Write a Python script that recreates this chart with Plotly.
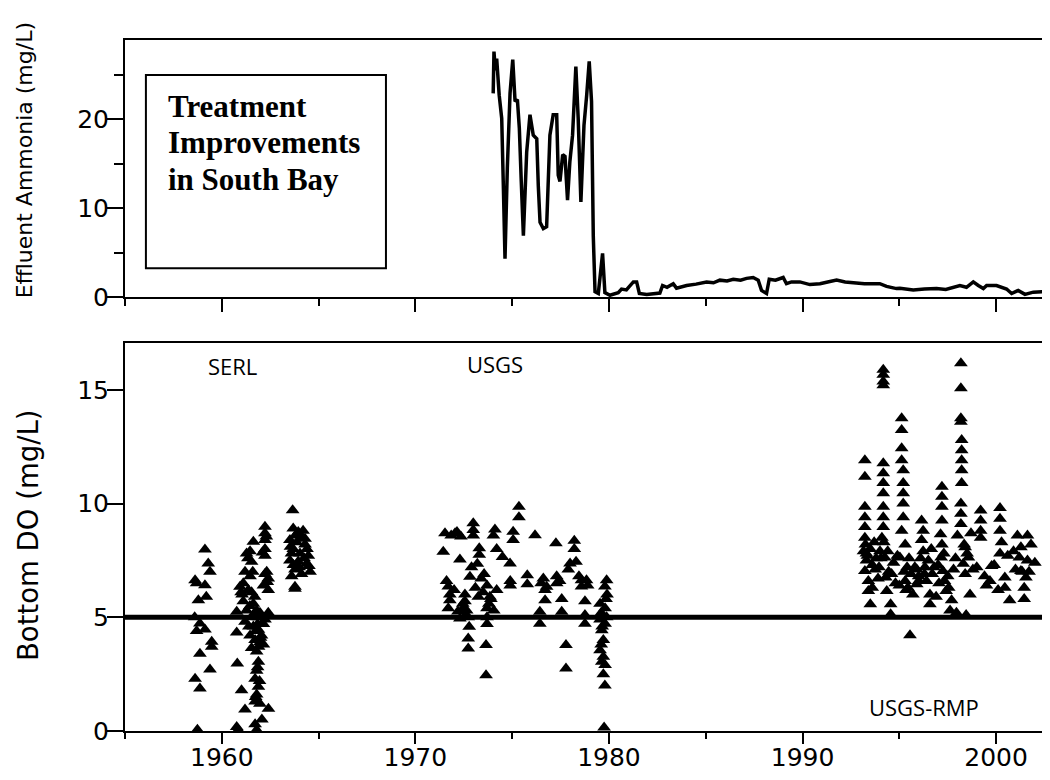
import plotly.graph_objects as go

# ---------------- data ----------------
nh3_year = [1974.02, 1974.06, 1974.13, 1974.2, 1974.33, 1974.46, 1974.55, 1974.63, 1974.75, 1974.89,
            1975.03, 1975.15, 1975.27, 1975.37, 1975.47, 1975.58, 1975.75, 1975.92, 1976.09, 1976.27,
            1976.35, 1976.44, 1976.61, 1976.78, 1976.95, 1977.12, 1977.3, 1977.38, 1977.47, 1977.61,
            1977.73, 1977.86, 1977.98, 1978.12, 1978.29, 1978.41, 1978.55, 1978.71, 1978.85, 1978.98,
            1979.1, 1979.19, 1979.28, 1979.45, 1979.67, 1979.79, 1980.05, 1980.48, 1980.65, 1980.9,
            1981.26, 1981.43, 1981.57, 1981.95, 1982.63, 1982.77, 1983.0, 1983.32, 1983.49, 1984.01,
            1984.5, 1985.04, 1985.4, 1985.73, 1986.1, 1986.42, 1986.8, 1987.11, 1987.45, 1987.71,
            1987.88, 1988.14, 1988.28, 1988.6, 1989.0, 1989.17, 1989.43, 1989.86, 1990.38, 1990.9,
            1991.3, 1991.76, 1992.2, 1992.62, 1993.2, 1993.65, 1993.99, 1994.34, 1994.85, 1995.03,
            1995.72, 1996.3, 1996.92, 1997.4, 1997.78, 1998.13, 1998.47, 1998.82, 1999.08, 1999.34,
            1999.51, 2000.02, 2000.54, 2000.8, 2001.14, 2001.49, 2001.92, 2002.18, 2002.35, 2002.78]
nh3_val = [22.9, 27.6, 25.5, 26.8, 22.7, 20.1, 12.0, 4.3, 14.5, 22.9,
           26.7, 22.0, 22.2, 19.0, 13.0, 6.9, 16.3, 20.5, 18.2, 17.8,
           12.5, 8.4, 7.7, 7.9, 18.2, 20.5, 20.5, 13.7, 13.0, 16.0,
           15.8, 10.9, 15.2, 18.2, 25.9, 20.1, 10.7, 19.3, 22.7, 26.5,
           22.0, 6.9, 0.6, 0.4, 4.9, 0.5, 0.2, 0.5, 0.9, 0.8,
           1.7, 1.7, 0.4, 0.3, 0.45, 1.3, 1.1, 1.5, 1.0, 1.3,
           1.45, 1.7, 1.6, 1.9, 1.8, 2.0, 1.9, 2.1, 2.2, 1.9,
           0.75, 0.4, 2.0, 1.9, 2.2, 1.5, 1.7, 1.7, 1.4, 1.5,
           1.7, 1.9, 1.7, 1.6, 1.5, 1.5, 1.5, 1.2, 0.95, 1.0,
           0.8, 0.9, 0.95, 0.85, 1.1, 1.3, 1.1, 1.7, 1.3, 0.95,
           1.3, 1.3, 0.9, 0.4, 0.75, 0.3, 0.55, 0.6, 0.65, 0.65]

serl_year = [1959.13, 1959.30, 1959.39, 1958.62, 1959.13, 1958.79, 1958.6, 1958.87, 1958.7, 1959.13,
             1959.48, 1959.48, 1958.87, 1959.39, 1958.62, 1958.87, 1958.74, 1958.7, 1959.2,
             1960.77, 1960.77, 1960.8, 1961.02, 1961.2, 1960.77, 1960.85,
             1961.63, 1961.46, 1961.28, 1961.54, 1961.2, 1961.46, 1961.11, 1961.37, 1960.94, 1961.54,
             1961.11, 1961.63, 1961.8, 1961.28, 1961.54, 1961.2, 1961.63, 1961.89, 1961.46, 1961.72,
             1961.97, 1961.54, 1961.80, 1962.15, 1962.23, 1961.0, 1961.7, 1961.9, 1962.05, 1961.75, 1961.9,
             1961.35, 1961.6, 1961.05, 1961.45, 1961.85, 1962.0, 1961.7, 1961.4,
             1961.89, 1961.8, 1961.72, 1961.89, 1961.8, 1961.72, 1961.97, 1962.41, 1962.07, 1961.72, 1961.8,
             1961.85, 1961.95, 1961.75,
             1962.23, 1962.23, 1962.23, 1962.23, 1962.23, 1962.32, 1962.23, 1962.4, 1962.15, 1962.4,
             1961.97, 1962.4, 1962.15, 1962.3, 1962.1, 1962.35,
             1963.66, 1963.69, 1963.95, 1964.2, 1963.52, 1963.87, 1964.3, 1963.69, 1964.04, 1964.47,
             1963.52, 1963.95, 1964.38, 1963.78, 1964.56, 1963.61, 1964.12, 1963.78, 1963.78,
             1963.6, 1964.1, 1964.4, 1963.8, 1964.25, 1963.7, 1964.0, 1964.3, 1963.55, 1964.5]
serl_do = [7.98, 7.37, 7.0, 6.63, 6.41, 5.75, 5.0, 4.73, 4.4, 4.46,
           3.92, 3.7, 3.4, 2.7, 2.3, 1.87, 0.06, 6.5, 5.9,
           5.24, 4.33, 2.97, 1.79, 0.94, 0.18, 0.05,
           8.32, 7.9, 7.8, 7.44, 7.0, 6.8, 6.5, 6.2, 6.34, 6.1,
           5.7, 5.6, 5.3, 5.3, 5.0, 4.8, 4.6, 4.45, 4.2, 4.0,
           3.9, 3.65, 3.5, 3.8, 4.9, 6.1, 5.9, 5.0, 4.2, 4.4, 3.7,
           7.6, 7.0, 6.0, 5.5, 4.7, 4.1, 5.2, 4.6,
           3.04, 2.65, 2.3, 1.95, 1.6, 1.3, 1.2, 0.98, 0.5, 0.3, 0.05,
           2.8, 2.2, 1.5,
           8.98, 8.7, 8.4, 8.0, 7.7, 7.0, 6.9, 6.7, 6.4, 6.2,
           5.2, 5.2, 4.7, 8.55, 7.85, 6.55,
           9.71, 8.9, 8.75, 8.8, 8.4, 8.3, 8.2, 8.0, 7.8, 7.7,
           7.5, 7.45, 7.35, 7.1, 7.0, 6.8, 6.9, 6.34, 6.25,
           7.8, 8.5, 8.0, 8.6, 7.6, 7.3, 7.2, 8.45, 8.1, 7.25]

usgs_year = [1975.35, 1975.35, 1971.53, 1972.05, 1972.99, 1972.99, 1972.99, 1974.11, 1974.03, 1975.05,
             1975.05, 1976.18, 1977.26, 1978.21, 1978.21, 1971.44, 1972.3, 1973.3, 1973.3, 1974.2,
             1974.5, 1972.9, 1973.2, 1974.89, 1977.99, 1978.3, 1977.9, 1972.82, 1973.4, 1973.7,
             1973.5, 1974.9, 1974.9, 1975.78, 1975.78, 1976.61, 1976.78, 1977.3, 1977.3, 1978.58,
             1978.84, 1978.58, 1979.88, 1979.79, 1971.61, 1971.7, 1971.78, 1971.78, 1972.56, 1972.56,
             1972.47, 1971.7, 1972.2, 1972.73, 1972.3, 1973.7, 1973.7, 1973.7, 1976.43, 1976.43,
             1976.7, 1976.7, 1977.56, 1977.56, 1978.76, 1978.76, 1978.76, 1979.54, 1979.8, 1979.6,
             1979.88, 1979.54, 1979.8, 1972.78, 1972.73, 1972.73, 1973.65, 1973.65, 1977.78, 1977.78,
             1979.63, 1979.71, 1979.54, 1979.71, 1979.63, 1979.8, 1979.71, 1979.79, 1979.75,
             1971.85, 1972.35, 1973.55, 1974.2, 1972.6, 1973.85, 1979.9, 1979.6,
             1972.15, 1972.45, 1973.1, 1973.25, 1973.8, 1974.05, 1976.5, 1977.45, 1978.45, 1978.9,
             1979.65, 1979.85, 1972.0, 1973.9, 1972.65]
usgs_do = [9.86, 9.4, 8.69, 8.69, 9.13, 8.84, 8.6, 8.86, 8.6, 8.76,
           8.4, 8.61, 8.25, 8.37, 8.0, 7.88, 7.54, 8.03, 7.75, 8.0,
           7.65, 7.2, 7.35, 7.37, 7.37, 7.44, 7.1, 6.78, 6.7, 6.4,
           6.1, 6.6, 6.4, 6.85, 6.45, 6.71, 6.34, 6.8, 6.5, 6.63,
           6.63, 6.35, 6.63, 6.35, 6.6, 6.35, 6.0, 5.75, 6.0, 5.7,
           5.4, 5.4, 5.25, 5.0, 4.95, 5.4, 5.0, 4.7, 5.24, 4.72,
           5.75, 6.2, 5.8, 5.24, 5.7, 5.1, 4.72, 5.6, 5.4, 5.2,
           5.0, 4.9, 4.72, 4.58, 4.07, 3.63, 3.78, 2.45, 3.78, 2.75,
           4.43, 4.0, 3.55, 3.27, 3.05, 2.9, 2.5, 2.0, 0.15,
           8.6, 8.55, 6.9, 6.2, 5.1, 5.9, 6.0, 3.8,
           8.75, 5.6, 6.3, 5.9, 5.6, 5.3, 6.5, 6.6, 6.8, 6.4,
           4.6, 5.8, 6.2, 5.8, 5.3]

rmp_year = [1993.22, 1993.22, 1993.22, 1993.22, 1993.22, 1993.22, 1993.15, 1993.3, 1993.22, 1993.4,
            1993.4, 1993.5,
            1994.17, 1994.17, 1994.17, 1994.17, 1994.17, 1994.17, 1994.17, 1994.17, 1994.17, 1994.17,
            1994.17, 1994.1, 1994.0, 1994.25, 1993.95, 1994.3, 1994.35, 1994.55, 1994.55,
            1995.12, 1995.12, 1995.12, 1995.12, 1995.2, 1995.2, 1995.2, 1995.2, 1995.2, 1995.12,
            1995.3, 1995.03, 1995.4, 1995.3, 1995.45, 1995.55,
            1996.15, 1996.23, 1996.15, 1996.23, 1996.32, 1996.4, 1996.58, 1996.58, 1995.8, 1995.9,
            1997.2, 1997.2, 1997.2, 1997.2, 1997.13, 1997.2, 1997.16, 1997.25, 1997.33, 1997.42,
            1996.8, 1997.7, 1997.62,
            1998.18, 1998.18, 1998.18, 1998.18, 1998.22, 1998.22, 1998.22, 1998.22, 1998.22, 1998.18,
            1998.18, 1998.18, 1998.4, 1998.57, 1998.3, 1998.4, 1998.65,
            1999.2, 1999.2, 1999.2, 1999.2,
            2000.2, 2000.2, 2000.2, 2000.28, 2000.2, 1999.77, 1999.68, 2000.45, 2000.45, 2000.7,
            2001.1, 2001.62, 2001.28, 2001.8, 2001.2, 2001.62, 2001.28, 2001.54, 2001.45, 2001.45,
            1993.3, 1993.6, 1993.8, 1994.45, 1994.7, 1995.6, 1995.9, 1996.0, 1996.7, 1997.0,
            1997.5, 1997.9, 1998.8, 1999.5, 1999.0, 2000.9, 2002.0, 1993.7, 1994.8, 1996.9,
            1993.25, 1993.35, 1993.5, 1993.6, 1993.75, 1993.9, 1994.05, 1994.2, 1994.4, 1994.6,
            1994.9, 1995.0, 1995.25, 1995.35, 1995.5, 1995.7, 1996.0, 1996.1, 1996.3, 1996.5,
            1996.65, 1997.05, 1997.3, 1997.55, 1997.8, 1998.0, 1998.35, 1998.5, 1998.7, 1999.4,
            1999.9, 2000.6, 2001.0, 2001.7, 1997.95, 1998.45, 2000.1, 2001.35]
rmp_do = [11.91, 11.18, 9.86, 9.4, 8.97, 8.5, 7.9, 7.5, 7.04, 6.6,
          6.16, 5.57,
          15.88, 15.66, 15.37, 15.2, 11.77, 11.33, 10.9, 10.45, 9.86, 9.4,
          8.97, 8.5, 7.9, 7.63, 7.2, 6.75, 6.16, 5.57, 5.13,
          13.75, 13.24, 12.43, 11.9, 11.47, 10.9, 10.45, 10.0, 9.4, 8.8,
          8.2, 7.63, 7.2, 6.6, 6.3, 4.21,
          9.25, 8.8, 8.4, 7.9, 7.2, 6.6, 6.0, 5.57, 7.2, 6.45,
          10.74, 10.3, 9.86, 9.25, 8.65, 8.2, 7.63, 7.04, 6.6, 6.16,
          7.2, 5.75, 5.3,
          16.17, 15.07, 13.75, 13.6, 12.8, 12.34, 11.9, 11.47, 10.9, 10.0,
          9.55, 9.1, 8.08, 7.63, 7.35, 6.9, 6.0,
          9.7, 9.25, 8.8, 8.5,
          9.8, 9.33, 8.8, 8.3, 7.8, 7.25, 6.6, 6.75, 6.3, 5.75,
          8.6, 8.6, 8.08, 8.2, 7.63, 7.5, 7.04, 6.75, 6.3, 5.8,
          7.8, 7.3, 7.6, 7.0, 7.4, 6.9, 7.1, 6.6, 6.9, 7.3,
          6.8, 7.6, 7.1, 6.4, 7.2, 7.9, 7.4, 8.3, 6.5, 5.9,
          8.2, 7.7, 8.0, 6.3, 7.1, 6.7, 7.6, 8.3, 7.9, 6.9,
          7.7, 6.4, 7.0, 6.2, 7.6, 6.0, 6.8, 7.6, 6.9, 7.5,
          8.0, 6.5, 7.8, 6.3, 7.1, 8.6, 8.2, 7.8, 8.7, 6.8,
          7.3, 7.7, 7.1, 7.0, 5.2, 5.1, 6.2, 7.0]

do_standard = 5

# ---------------- figure ----------------
# The page body has an 8px margin, so the figure is 16px smaller than the window.
AX = "black"
tickfont = dict(family="DejaVu Sans", size=25, color="black")

fig = go.Figure()

fig.add_trace(go.Scatter(x=nh3_year, y=nh3_val, mode="lines",
                         line=dict(color="black", width=3.5), xaxis="x", yaxis="y",
                         showlegend=False))

marker = dict(symbol="triangle-up", size=12, color="black", line=dict(width=0))
for xs, ys in [(serl_year, serl_do), (usgs_year, usgs_do), (rmp_year, rmp_do)]:
    fig.add_trace(go.Scatter(x=xs, y=ys, mode="markers", marker=marker,
                             xaxis="x2", yaxis="y2", showlegend=False))

fig.add_shape(type="line", xref="x2 domain", yref="y2", x0=0, x1=1,
              y0=do_standard, y1=do_standard, line=dict(color="black", width=5))

xcommon = dict(range=[1955, 2002.37], dtick=10, tick0=1960, showline=True, linecolor=AX,
               linewidth=2, mirror=True, ticks="outside", tickwidth=2, tickcolor=AX,
               showgrid=False, zeroline=False, tickfont=tickfont, automargin=False)

fig.update_layout(
    width=1034, height=764,
    margin=dict(l=117, r=0, t=32, b=41, autoexpand=False),
    paper_bgcolor="white", plot_bgcolor="white",
    xaxis=dict(**xcommon, domain=[0, 1], anchor="y", ticklen=13, showticklabels=False,
               minor=dict(dtick=5, tick0=1955, ticklen=7, tickwidth=2, tickcolor=AX, ticks="outside")),
    yaxis=dict(domain=[0.628, 1], anchor="x", range=[0, 28.9], dtick=10, showline=True,
               linecolor=AX, linewidth=2, ticks="outside", ticklen=16, tickwidth=2, tickcolor=AX,
               showgrid=False, zeroline=False, tickfont=tickfont, automargin=False,
               ticklabelstandoff=-7,
               minor=dict(dtick=5, ticklen=9, tickwidth=2, tickcolor=AX, ticks="outside")),
    xaxis2=dict(**xcommon, domain=[0, 1], anchor="y2", matches="x", ticklen=11,
                ticklabelstandoff=-8,
                minor=dict(dtick=5, tick0=1955, ticklen=6, tickwidth=2, tickcolor=AX, ticks="outside")),
    yaxis2=dict(domain=[0, 0.5615], anchor="x2", range=[0, 17.06], dtick=5, showline=True,
                linecolor=AX, linewidth=2, ticks="outside", ticklen=16, tickwidth=2, tickcolor=AX,
                showgrid=False, zeroline=False, tickfont=tickfont, automargin=False,
                ticklabelstandoff=-7),
)

# text box in top panel
fig.add_shape(type="rect", xref="x", yref="y", x0=1956.08, x1=1968.48, y0=3.23, y1=24.97,
              line=dict(color="black", width=2), fillcolor="rgba(0,0,0,0)")
box_font = dict(family="Liberation Serif", size=31, color="black", weight="bold")
for txt, yv in [("Treatment", 21.45), ("Improvements", 17.4), ("in South Bay", 13.25)]:
    fig.add_annotation(x=1957.1, y=yv, xref="x", yref="y", text="<b>%s</b>" % txt,
                       showarrow=False, xanchor="left", yanchor="middle", font=box_font)

lab_font = dict(family="Open Sans", size=22, color="black")
fig.add_annotation(x=1960.53, y=16.05, xref="x2", yref="y2", text="SERL", showarrow=False, font=lab_font)
fig.add_annotation(x=1974.11, y=16.14, xref="x2", yref="y2", text="USGS", showarrow=False, font=lab_font)
fig.add_annotation(x=1996.27, y=1.04, xref="x2", yref="y2", text="USGS-RMP", showarrow=False, font=lab_font)

# axis titles
fig.add_annotation(x=-0.110, y=0.826, xref="paper", yref="paper", text="Effluent Ammonia (mg/L)",
                   textangle=-90, showarrow=False, xanchor="center", yanchor="middle",
                   font=dict(family="DejaVu Sans", size=22, color="black"))
fig.add_annotation(x=-0.1058, y=0.2836, xref="paper", yref="paper", text="Bottom DO (mg/L)",
                   textangle=-90, showarrow=False, xanchor="center", yanchor="middle",
                   font=dict(family="DejaVu Sans", size=27.5, color="black"))

fig.write_html("out.html")
